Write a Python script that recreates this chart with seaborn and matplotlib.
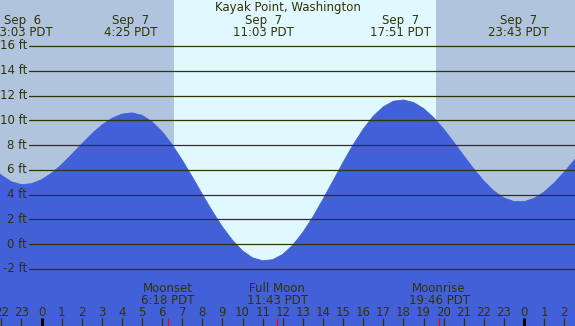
import matplotlib
matplotlib.use("Agg")
import matplotlib.pyplot as plt
import matplotlib.transforms as mtransforms
import numpy as np
import pandas as pd
import seaborn as sns

# ── Data ─────────────────────────────────────────────────────────────────────
TITLE = "Kayak Point, Washington"

# hours relative to Sep 7 00:00 PDT, sampled every 30 min
tide_hours = np.arange(-2.5, 27.01, 0.5)
tide_ft = [
    6.36, 5.57, 5.04, 4.81, 4.88, 5.20, 5.73, 6.42, 7.23, 8.08,
    8.90, 9.61, 10.16, 10.50, 10.60, 10.40, 9.88, 9.08, 8.03, 6.78,
    5.43, 4.02, 2.65, 1.39, 0.31, -0.54, -1.10, -1.34, -1.25, -0.82,
    -0.07, 0.96, 2.21, 3.63, 5.12, 6.61, 8.03, 9.29, 10.34, 11.09,
    11.54, 11.64, 11.44, 10.95, 10.22, 9.29, 8.24, 7.14, 6.06, 5.09,
    4.29, 3.73, 3.44, 3.43, 3.70, 4.22, 4.95, 5.83, 6.79, 7.77,
]

extreme_hours = [-0.95, 4.42, 11.05, 17.85, 23.72]
extreme_dates = ["Sep  6", "Sep  7", "Sep  7", "Sep  7", "Sep  7"]
extreme_times = ["23:03 PDT", "4:25 PDT", "11:03 PDT", "17:51 PDT", "23:43 PDT"]

sunrise, sunset = 6.59, 19.62

moon_hours = [6.30, 11.72, 19.77]
moon_names = ["Moonset", "Full Moon", "Moonrise"]
moon_times = ["6:18 PDT", "11:43 PDT", "19:46 PDT"]

ft_levels = [-2, 0, 2, 4, 6, 8, 10, 12, 14, 16]
hour_ticks = list(range(-2, 27))

# ── Style ────────────────────────────────────────────────────────────────────
NIGHT = "#b0c4de"
DAY = "#e0f8ff"
WATER = "#4260d8"
INK = "#333300"

W, H = 575, 326
X_LIM = (-41.5 / 20.11, (W - 41.5) / 20.11)
Y_LIM = (-(H - 244.2) / 12.39, 244.2 / 12.39)

sns.set_style("white")
plt.rcParams["font.family"] = ["DejaVu Sans"]

fig = plt.figure(figsize=(W / 100, H / 100), dpi=100)
ax = fig.add_axes([0, 0, 1, 1])
ax.set_xlim(*X_LIM)
ax.set_ylim(*Y_LIM)
ax.axis("off")


def ypx(px):
    """pixel row from top -> axes fraction"""
    return 1 - px / H


tr = mtransforms.blended_transform_factory(ax.transData, ax.transAxes)

# day / night bands
ax.axvspan(X_LIM[0], sunrise, color=NIGHT, lw=0, zorder=0)
ax.axvspan(sunrise, sunset, color=DAY, lw=0, zorder=0)
ax.axvspan(sunset, X_LIM[1], color=NIGHT, lw=0, zorder=0)

# tide
df = pd.DataFrame({"hour": tide_hours, "ft": tide_ft})
ax.fill_between(df["hour"], df["ft"], Y_LIM[0] - 5, color=WATER, lw=0, zorder=1)
sns.lineplot(data=df, x="hour", y="ft", ax=ax, color=WATER, lw=0.6, zorder=1)
ax.set_xlim(*X_LIM)
ax.set_ylim(*Y_LIM)
ax.axis("off")

# level lines + labels
for lv in ft_levels:
    ax.axhline(lv, xmin=29 / W, xmax=1, color=INK, lw=0.9, zorder=2)
    ax.text(27 / W, lv, f"{lv} ft", transform=mtransforms.blended_transform_factory(ax.transAxes, ax.transData),
            ha="right", va="center", fontsize=8.5, color=INK, zorder=3)

# title and extreme labels
ax.text(0.5, ypx(10.7), TITLE, transform=ax.transAxes, ha="center", va="baseline",
        fontsize=8.5, color=INK)
for hx, d, t in zip(extreme_hours, extreme_dates, extreme_times):
    ax.text(hx, ypx(24), d, transform=tr, ha="center", va="baseline", fontsize=8.5, color=INK)
    ax.text(hx, ypx(36), t, transform=tr, ha="center", va="baseline", fontsize=8.5, color=INK)

# hour ticks
for h in hour_ticks:
    midnight = h % 24 == 0
    ax.plot([h, h], [0, ypx(318)], transform=tr, color="#000000" if midnight else INK,
            lw=2.2 if midnight else 0.9, solid_capstyle="butt", zorder=3)
    ax.text(h, ypx(316), str(h % 24), transform=tr, ha="center", va="baseline",
            fontsize=8.5, color=INK, zorder=3)

# moon events
for hx, n, t in zip(moon_hours, moon_names, moon_times):
    ax.plot([hx, hx], [0, ypx(318)], transform=tr, color="#ff0000", lw=0.9,
            solid_capstyle="butt", zorder=4)
    ax.text(hx, ypx(291.7), n, transform=tr, ha="center", va="baseline", fontsize=8.5, color=INK)
    ax.text(hx, ypx(304.3), t, transform=tr, ha="center", va="baseline", fontsize=8.5, color=INK)

fig.savefig("out.png", dpi=100)
